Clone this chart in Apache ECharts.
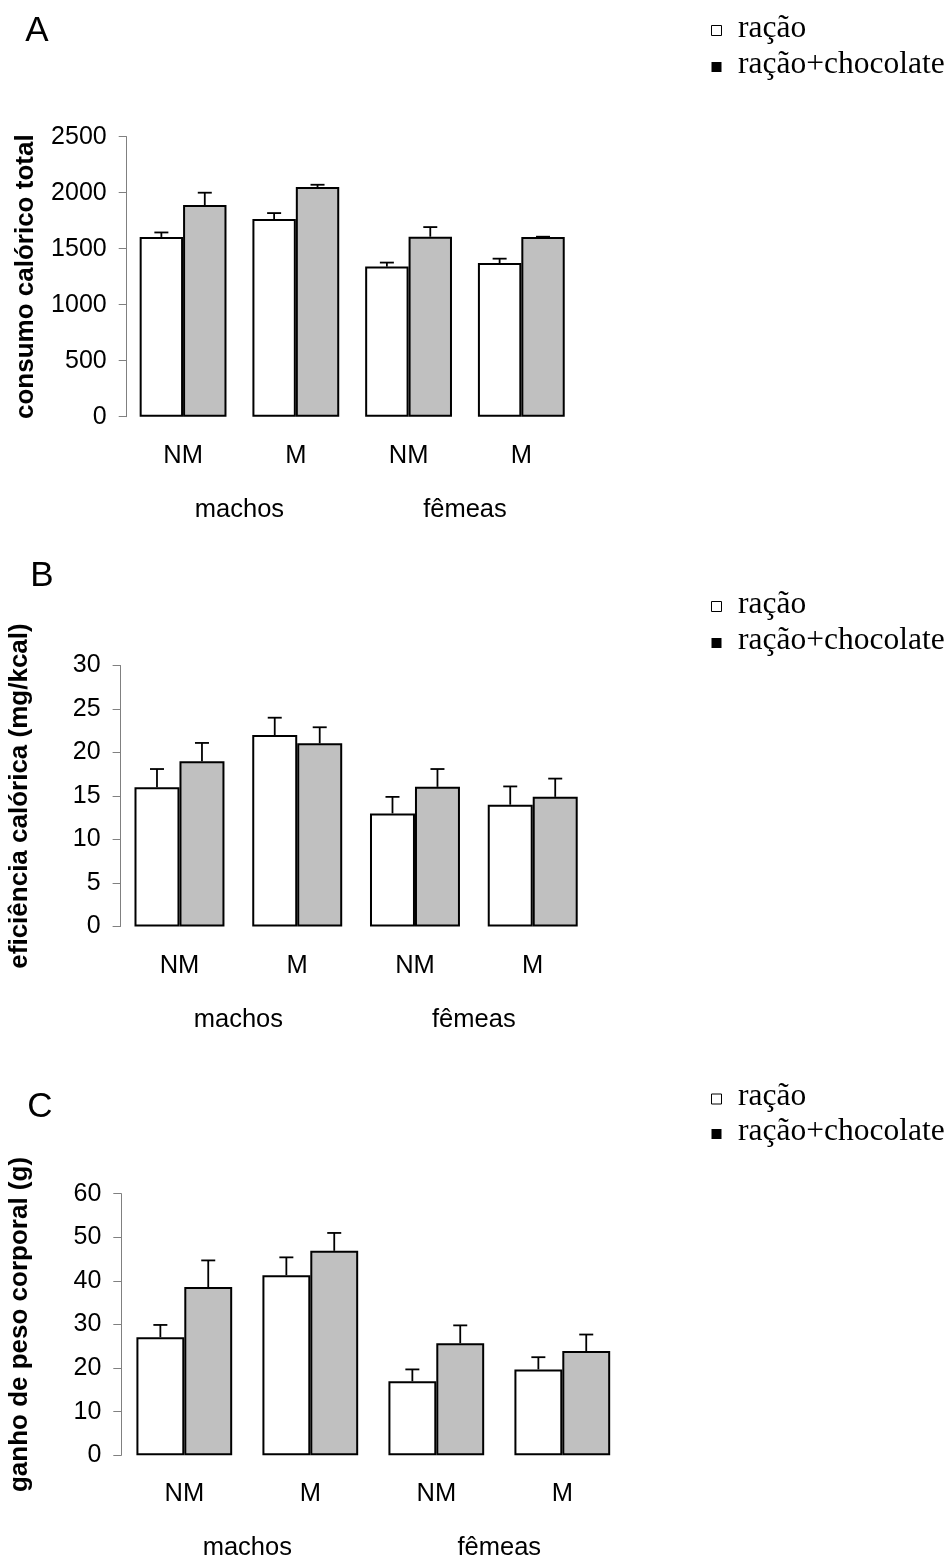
<!DOCTYPE html>
<html>
<head>
<meta charset="utf-8">
<script src="https://cdn.jsdelivr.net/npm/echarts@6/dist/echarts.min.js"></script>
<style>
  html, body { margin: 0; padding: 0; background: #fff; }
  #chart { width: 952px; height: 1558px; }
</style>
</head>
<body>
<div id="chart"></div>
<script>
const categories = ['NM', 'M', 'NM', 'M']
const groups = ['machos', 'fêmeas']
const seriesNames = ['ração', 'ração+chocolate']

// A - consumo calórico total (média e erro padrão)
const consumoRacao = [1605, 1765, 1340, 1372]
const consumoRacaoErr = [40, 53, 36, 39]
const consumoChoc = [1890, 2051, 1607, 1604]
const consumoChocErr = [110, 20, 86, 3]

// B - eficiência calórica (mg/kcal)
const eficRacao = [16.0, 22.0, 13.0, 14.0]
const eficRacaoErr = [2.1, 2.0, 1.9, 2.1]
const eficChoc = [19.0, 21.05, 16.05, 14.9]
const eficChocErr = [2.1, 1.85, 2.05, 2.1]

// C - ganho de peso corporal (g)
const ganhoRacao = [27.1, 41.3, 17.0, 19.7]
const ganhoRacaoErr = [2.8, 4.1, 2.7, 2.8]
const ganhoChoc = [38.6, 46.9, 25.7, 23.9]
const ganhoChocErr = [6.1, 4.1, 4.1, 3.8]

const yTitles = ['consumo calórico total', 'eficiência calórica (mg/kcal)', 'ganho de peso corporal (g)']
const yMax = [2500, 30, 60]
const yStep = [500, 5, 10]
const letters = ['A', 'B', 'C']

const sans = 'Liberation Sans, Arial, sans-serif'
const serif = 'Liberation Serif, Times New Roman, serif'

// layout per panel
const panels = [
  { left: 126.7, top: 136.7, width: 451, height: 280, gap: 0.23, letter: [37, 31], legend: [28.5, 65] },
  { left: 120.6, top: 665.5, width: 471, height: 261, gap: 0.236, letter: [42, 576], legend: [604.5, 641] },
  { left: 121.3, top: 1193.7, width: 504, height: 261.6, gap: 0.24, letter: [40, 1107], legend: [1097, 1132] }
]

const panelData = [
  [consumoRacao, consumoRacaoErr, consumoChoc, consumoChocErr],
  [eficRacao, eficRacaoErr, eficChoc, eficChocErr],
  [ganhoRacao, ganhoRacaoErr, ganhoChoc, ganhoChocErr]
]

const chart = echarts.init(document.getElementById('chart'), null, { renderer: 'canvas' })

const grid = []
const xAxis = []
const yAxis = []
const series = []
const graphic = []

// barra de erro só para cima, com traço horizontal no topo
const errorRenderItem = (gap) => (params, api) => {
  const x = api.value(0)
  const mean = api.value(1)
  const err = api.value(2)
  const side = api.value(3)
  const base = api.coord([x, mean])
  const top = api.coord([x, mean + err])
  const band = api.size([1, 0])[0]
  const cx = base[0] + side * band * (1 - gap) / 4
  const st = { stroke: '#000', lineWidth: 1.8 }
  return {
    type: 'group',
    children: [
      { type: 'line', shape: { x1: cx, y1: base[1], x2: cx, y2: top[1] }, style: st },
      { type: 'line', shape: { x1: cx - 7, y1: top[1], x2: cx + 7, y2: top[1] }, style: st }
    ]
  }
}

panels.forEach((p, i) => {
  const [m1, e1, m2, e2] = panelData[i]
  grid.push({ left: p.left, top: p.top, width: p.width, height: p.height, containLabel: false, outerBoundsMode: 'none' })

  xAxis.push({
    type: 'category', gridIndex: i, data: categories, position: 'bottom',
    axisLine: { show: false }, axisTick: { show: false },
    axisLabel: { margin: 26, fontSize: 25.5, fontFamily: sans, color: '#000' }
  })
  xAxis.push({
    type: 'category', gridIndex: i, data: groups, position: 'bottom',
    axisLine: { show: false }, axisTick: { show: false },
    axisLabel: { margin: 80, fontSize: 25.5, fontFamily: sans, color: '#000' }
  })
  yAxis.push({
    type: 'value', gridIndex: i, min: 0, max: yMax[i], interval: yStep[i],
    name: yTitles[i], nameLocation: 'middle', nameRotate: 90, nameGap: 88,
    nameTextStyle: { fontSize: 26, fontWeight: 'bold', fontFamily: sans, color: '#000' },
    axisLine: { show: true, lineStyle: { color: '#808080', width: 1 } },
    axisTick: { show: true, length: 8, lineStyle: { color: '#808080', width: 1 } },
    axisLabel: { margin: 20, fontSize: 25, fontFamily: sans, color: '#000', formatter: (v) => String(v) },
    splitLine: { show: false }
  })

  series.push({
    name: seriesNames[0], type: 'bar', xAxisIndex: i * 2, yAxisIndex: i,
    data: m1, barGap: '0%', barCategoryGap: (p.gap * 100) + '%',
    itemStyle: { color: '#fff', borderColor: '#000', borderWidth: 2 },
    silent: true, animation: false
  })
  series.push({
    name: seriesNames[1], type: 'bar', xAxisIndex: i * 2, yAxisIndex: i,
    data: m2, barGap: '0%', barCategoryGap: (p.gap * 100) + '%',
    itemStyle: { color: '#c0c0c0', borderColor: '#000', borderWidth: 2 },
    silent: true, animation: false
  })
  const errData = []
  m1.forEach((v, k) => errData.push([k, v, e1[k], -1]))
  m2.forEach((v, k) => errData.push([k, v, e2[k], 1]))
  series.push({
    type: 'custom', xAxisIndex: i * 2, yAxisIndex: i, z: 3,
    renderItem: errorRenderItem(p.gap),
    encode: { x: 0, y: 1 },
    data: errData, silent: true, animation: false
  })

  // letra do painel
  graphic.push({
    type: 'text', x: p.letter[0], y: p.letter[1],
    style: { text: letters[i], font: '35px ' + sans, fill: '#000', align: 'center', verticalAlign: 'middle' }
  })
  // legenda no estilo texto da figura original
  const sq = 10
  graphic.push({
    type: 'rect', shape: { x: 716.5 - sq / 2, y: p.legend[0] + 2 - sq / 2, width: sq, height: sq },
    style: { fill: '#fff', stroke: '#000', lineWidth: 1 }
  })
  graphic.push({
    type: 'rect', shape: { x: 716.5 - sq / 2, y: p.legend[1] + 2 - sq / 2, width: sq, height: sq },
    style: { fill: '#000' }
  })
  graphic.push({
    type: 'text', x: 738, y: p.legend[0],
    style: { text: seriesNames[0], font: '31.5px ' + serif, fill: '#000', align: 'left', verticalAlign: 'middle' }
  })
  graphic.push({
    type: 'text', x: 738, y: p.legend[1],
    style: { text: seriesNames[1], font: '31.5px ' + serif, fill: '#000', align: 'left', verticalAlign: 'middle' }
  })
})

chart.setOption({
  backgroundColor: '#fff',
  animation: false,
  grid, xAxis, yAxis, series, graphic
})
</script>
</body>
</html>
